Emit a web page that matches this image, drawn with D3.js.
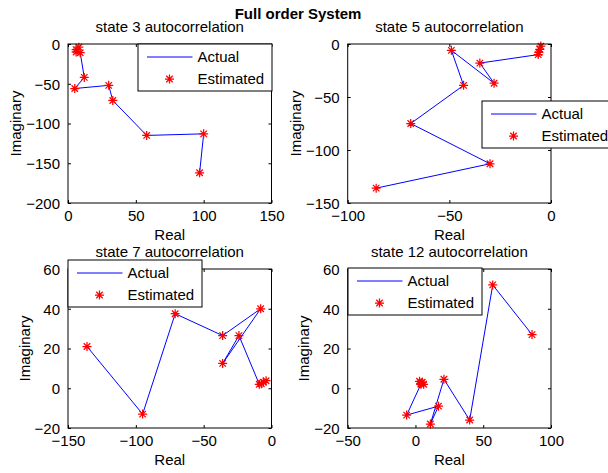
<!DOCTYPE html>
<html>
<head>
<meta charset="utf-8">
<script src="https://cdn.jsdelivr.net/npm/d3@7"></script>
<style>
  html, body { margin: 0; padding: 0; background: #fff; }
  svg { display: block; font-family: "Liberation Sans", Arial, Helvetica, sans-serif; }
</style>
</head>
<body>
<svg id="chart" width="608" height="473"></svg>
<script>
// ---------------- data ----------------
const figTitle = "Full order System";
const panelTitles = ["state 3 autocorrelation", "state 5 autocorrelation", "state 7 autocorrelation", "state 12 autocorrelation"];
const xLabel = "Real";
const yLabel = "Imaginary";
const legendLabels = ["Actual", "Estimated"];

const s3Re = [8, 6, 6, 9, 12, 5, 30, 33, 58, 100, 97];
const s3Im = [-4, -7, -10, -11, -42, -56, -52, -71, -115, -113, -162];

const s5Re = [-5, -5.5, -6, -6.3, -35, -28, -49, -43, -69, -30, -86];
const s5Im = [-2, -5, -8, -10, -18, -37, -6, -39, -75, -113, -136];

const s7Re = [-136, -95, -71, -36, -8, -36, -24, -9, -7.5, -6, -4];
const s7Im = [21, -13, 37.5, 26.5, 40, 12.5, 26.5, 2, 2.3, 3, 3.8];

const s12Re = [3, 4, 5, 6, 4, -6.5, 17, 11, 21, 40, 57, 86];
const s12Im = [3.5, 2.5, 3, 2, 2, -13.5, -9, -18, 4.5, -16, 52, 27];

const s3XTicks = [0, 50, 100, 150],  s3YTicks = [-200, -150, -100, -50, 0];
const s5XTicks = [-100, -50, 0],     s5YTicks = [-150, -100, -50, 0];
const s7XTicks = [-150, -100, -50, 0], s7YTicks = [-20, 0, 20, 40, 60];
const s12XTicks = [-50, 0, 50, 100], s12YTicks = [-20, 0, 20, 40, 60];

const s3XDom = [0, 150],   s3YDom = [-200, 0];
const s5XDom = [-100, 0],  s5YDom = [-150, 0];
const s7XDom = [-150, 0],  s7YDom = [-20, 60];
const s12XDom = [-50, 100], s12YDom = [-20, 60];

// ---------------- layout ----------------
const FS = 15;
const svg = d3.select("#chart");
const fmt = v => (v < 0 ? "\u2212" + Math.abs(v) : String(v));

const panels = [
  {title: panelTitles[0], re: s3Re, im: s3Im, xt: s3XTicks, yt: s3YTicks, xd: s3XDom, yd: s3YDom,
   box: {l: 68, t: 44, w: 203.5, h: 159}, leg: {x: 138, y: 44}},
  {title: panelTitles[1], re: s5Re, im: s5Im, xt: s5XTicks, yt: s5YTicks, xd: s5XDom, yd: s5YDom,
   box: {l: 347.7, t: 44, w: 203.3, h: 159}, leg: {x: 482, y: 101}},
  {title: panelTitles[2], re: s7Re, im: s7Im, xt: s7XTicks, yt: s7YTicks, xd: s7XDom, yd: s7YDom,
   box: {l: 68, t: 269, w: 203.5, h: 159}, leg: {x: 68, y: 260}},
  {title: panelTitles[3], re: s12Re, im: s12Im, xt: s12XTicks, yt: s12YTicks, xd: s12XDom, yd: s12YDom,
   box: {l: 347.7, t: 269, w: 203.3, h: 159}, leg: {x: 348, y: 268}}
];

function starPath(r) {
  const d = r * 0.72;
  return `M${-r},0L${r},0M0,${-r}L0,${r}M${-d},${-d}L${d},${d}M${-d},${d}L${d},${-d}`;
}

panels.forEach(p => {
  const b = p.box;
  const x = d3.scaleLinear().domain(p.xd).range([b.l, b.l + b.w]);
  const y = d3.scaleLinear().domain(p.yd).range([b.t + b.h, b.t]);
  const g = svg.append("g");

  g.append("rect").attr("x", b.l).attr("y", b.t).attr("width", b.w).attr("height", b.h)
    .attr("fill", "#fff");

  const tl = 3;
  const xB = g.append("g").attr("transform", `translate(0,${b.t + b.h})`)
    .call(d3.axisBottom(x).tickValues(p.xt).tickFormat(fmt).tickSizeInner(-tl).tickSizeOuter(0).tickPadding(7));
  const xT = g.append("g").attr("transform", `translate(0,${b.t})`)
    .call(d3.axisTop(x).tickValues(p.xt).tickFormat("").tickSizeInner(-tl).tickSizeOuter(0));
  const yL = g.append("g").attr("transform", `translate(${b.l},0)`)
    .call(d3.axisLeft(y).tickValues(p.yt).tickFormat(fmt).tickSizeInner(-tl).tickSizeOuter(0).tickPadding(8));
  const yR = g.append("g").attr("transform", `translate(${b.l + b.w},0)`)
    .call(d3.axisRight(y).tickValues(p.yt).tickFormat("").tickSizeInner(-tl).tickSizeOuter(0));
  [xB, xT, yL, yR].forEach(a => {
    a.select(".domain").remove();
    a.selectAll("line").attr("stroke", "#000").attr("stroke-width", 1);
    a.selectAll("text").attr("font-size", FS).attr("fill", "#000").attr("font-family", null);
  });
  xB.selectAll("text").attr("dy", null).attr("y", 18).attr("dominant-baseline", "auto");
  yL.selectAll("text").attr("dy", "0.36em");

  const line = d3.line().x((d, i) => x(p.re[i])).y((d, i) => y(p.im[i]));
  g.append("path").datum(p.re).attr("d", line)
    .attr("fill", "none").attr("stroke", "#0000ff").attr("stroke-width", 1);

  g.selectAll("path.star").data(p.re).enter().append("path").attr("class", "star")
    .attr("d", starPath(4.5))
    .attr("transform", (d, i) => `translate(${x(p.re[i])},${y(p.im[i])})`)
    .attr("fill", "none").attr("stroke", "#ff0000").attr("stroke-width", 1.25);

  g.append("rect").attr("x", b.l).attr("y", b.t).attr("width", b.w).attr("height", b.h)
    .attr("fill", "none").attr("stroke", "#000").attr("stroke-width", 1);

  g.append("text").attr("x", b.l + b.w / 2).attr("y", b.t - 12.5).attr("text-anchor", "middle")
    .attr("font-size", FS).text(p.title);
  g.append("text").attr("x", b.l + b.w / 2).attr("y", b.t + b.h + 37).attr("text-anchor", "middle")
    .attr("font-size", FS).text(xLabel);
  let minX = 0;
  yL.selectAll("text").each(function() { const bx = this.getBBox(); minX = Math.min(minX, bx.x); });
  g.append("text").attr("transform", `translate(${b.l + minX - 5},${b.t + b.h / 2}) rotate(-90)`)
    .attr("text-anchor", "middle").attr("font-size", FS).text(yLabel);

  const L = p.leg;
  const lg = g.append("g").attr("transform", `translate(${L.x},${L.y})`);
  lg.append("rect").attr("x", 0).attr("y", 0).attr("width", 134).attr("height", 47)
    .attr("fill", "#fff").attr("stroke", "#000").attr("stroke-width", 1);
  lg.append("line").attr("x1", 9).attr("x2", 54.5).attr("y1", 13).attr("y2", 13)
    .attr("stroke", "#0000ff").attr("stroke-width", 1);
  lg.append("path").attr("d", starPath(4.5)).attr("transform", "translate(31.5,35)")
    .attr("fill", "none").attr("stroke", "#ff0000").attr("stroke-width", 1.25);
  lg.append("text").attr("x", 59.5).attr("y", 13).attr("dy", "0.36em").attr("font-size", FS).text(legendLabels[0]);
  lg.append("text").attr("x", 59.5).attr("y", 35).attr("dy", "0.36em").attr("font-size", FS).text(legendLabels[1]);
});

svg.append("text").attr("x", 298).attr("y", 19).attr("text-anchor", "middle")
  .attr("font-size", FS).attr("font-weight", "bold").text(figTitle);
</script>
</body>
</html>
